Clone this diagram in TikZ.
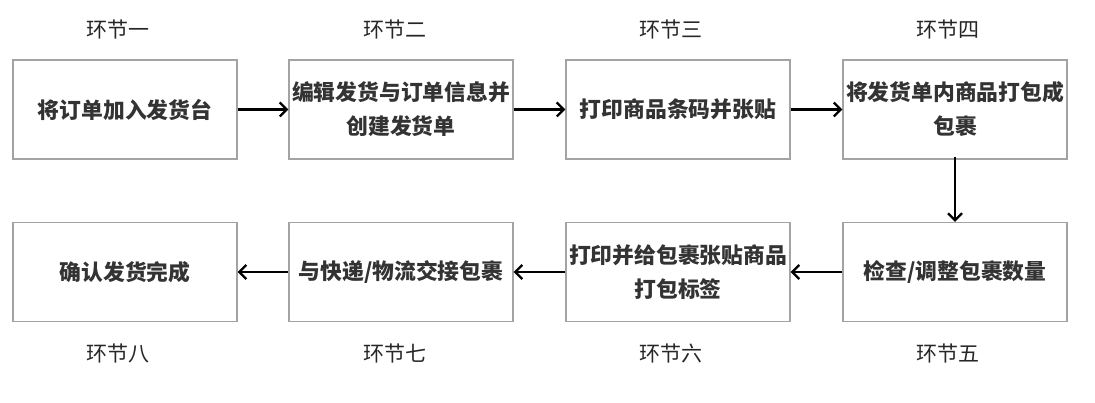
\documentclass[tikz,border=0pt]{standalone}
\usepackage{fontspec}
\setmainfont{Noto Sans CJK SC}
\usetikzlibrary{arrows.meta}
\definecolor{boxline}{HTML}{A3A3A3}
\definecolor{boxtext}{HTML}{333333}
\begin{document}
\begin{tikzpicture}[x=1pt,y=-1pt,
  stepbox/.style={draw=boxline,line width=1.4pt,minimum width=224pt,minimum height=99pt,
    inner sep=0pt,align=center,text=boxtext,font=\fontsize{21.8}{34}\selectfont\bfseries},
  steplabel/.style={text=black!85,font=\fontsize{21}{24}\selectfont},
  flow/.style={line width=2.2pt,-{Straight Barb[length=7pt,width=14pt,line width=2.2pt]}}]
\useasboundingbox (0,0) rectangle (1095,403);
\node[stepbox] (b1) at (125,109.5) {将订单加入发货台};
\node[stepbox] (b2) at (401,109.5) {编辑发货与订单信息并\\创建发货单};
\node[stepbox] (b3) at (678,109.5) {打印商品条码并张贴};
\node[stepbox] (b4) at (955,109.5) {将发货单内商品打包成\\包裹};
\node[stepbox] (b5) at (955,272) {检查/调整包裹数量};
\node[stepbox] (b6) at (678,272) {打印并给包裹张贴商品\\打包标签};
\node[stepbox] (b7) at (401,272) {与快递/物流交接包裹};
\node[stepbox] (b8) at (125,272) {确认发货完成};
\node[steplabel] (l1) at (118,30) {环节一};
\node[steplabel] (l2) at (395,30) {环节二};
\node[steplabel] (l3) at (671,30) {环节三};
\node[steplabel] (l4) at (948,30) {环节四};
\node[steplabel] (l5) at (948,353) {环节五};
\node[steplabel] (l6) at (671,353) {环节六};
\node[steplabel] (l7) at (395,353) {环节七};
\node[steplabel] (l8) at (118,353) {环节八};
\draw[flow] (b1.east) -- (b2.west);
\draw[flow] (b2.east) -- (b3.west);
\draw[flow] (b3.east) -- (b4.west);
\draw[flow] ([yshift=3pt]b4.south) -- (b5.north);
\draw[flow] (b5.west) -- (b6.east);
\draw[flow] (b6.west) -- (b7.east);
\draw[flow] (b7.west) -- (b8.east);
\end{tikzpicture}
\end{document}
